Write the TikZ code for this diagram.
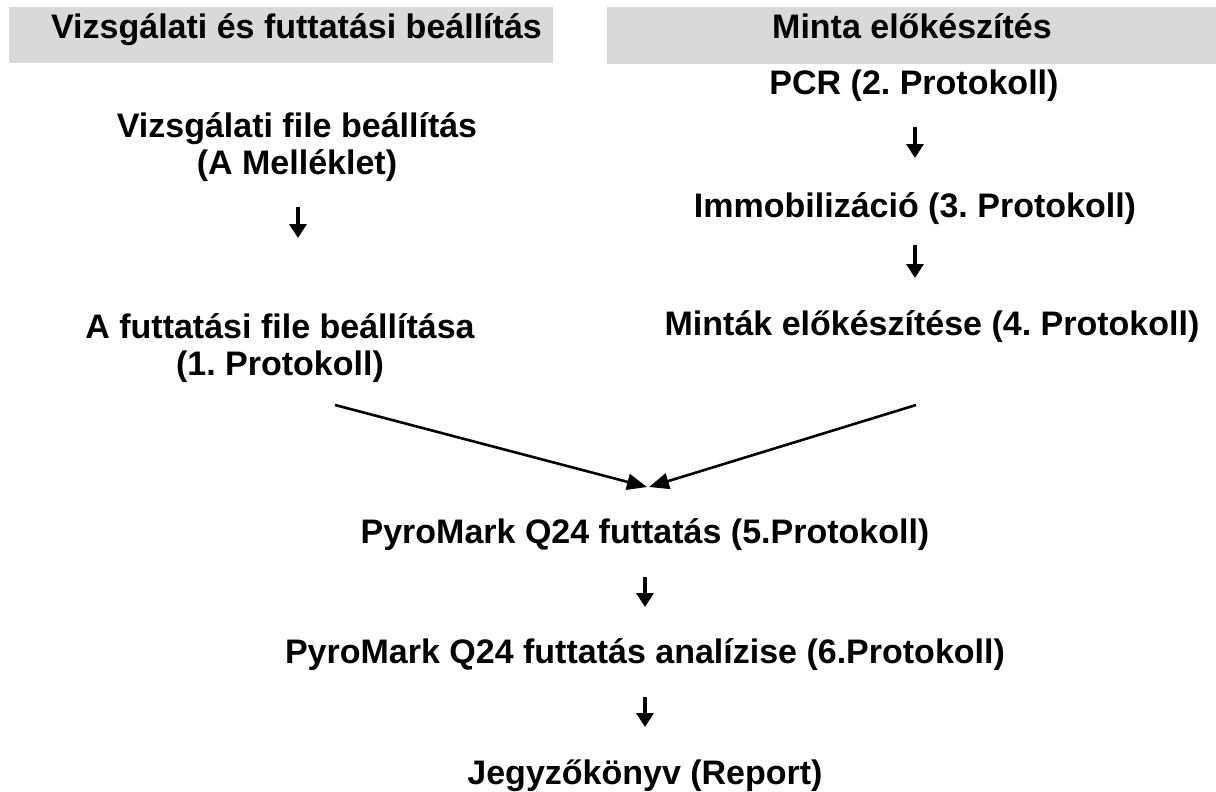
\documentclass[tikz,border=0pt]{standalone}
\usepackage{fontspec}
\setmainfont{Liberation Sans}
\usetikzlibrary{arrows.meta,calc}
\definecolor{hdrgray}{HTML}{D9D9D9}
\tikzset{
  hdrbar/.style={fill=hdrgray, draw=none, inner sep=0pt},
  steptext/.style={font=\fontsize{34}{37}\selectfont\bfseries\frenchspacing, inner sep=0pt,
                   anchor=base, align=center},
  sarr/.style={-{Triangle[length=14pt,width=17pt]}, line width=3.4pt},
  darr/.style={-{Triangle[length=20pt,width=16pt]}, line width=2.6pt}}
\begin{document}
\begin{tikzpicture}[x=1pt,y=-1pt]
  \useasboundingbox (0,0) rectangle (1216,792);
  % header bars
  \node[hdrbar, minimum width=544pt, minimum height=56pt] (hdrleft) at (281,35) {};
  \node[hdrbar, minimum width=609pt, minimum height=57pt] (hdrright) at (911.5,35.5) {};
  \node[steptext] (hdrlefttxt) at (296.5,39) {Vizsgálati és futtatási beállítás};
  \node[steptext] (hdrrighttxt) at (912,39) {Minta előkészítés};
  % left column
  \node[steptext] (vfile) at (297,174) {Vizsgálati file beállítás\\(A Melléklet)};
  \node[steptext] (futfile) at (280,375) {A futtatási file beállítása\\(1. Protokoll)};
  % right column
  \node[steptext] (pcr) at (914,95) {PCR (2. Protokoll)};
  \node[steptext] (immob) at (915,217) {Immobilizáció (3. Protokoll)};
  \node[steptext] (mintak) at (932,335) {Minták előkészítése (4. Protokoll)};
  % common part
  \node[steptext] (pyrorun) at (645,543) {PyroMark Q24 futtatás (5.Protokoll)};
  \node[steptext] (pyroanal) at (645,663) {PyroMark Q24 futtatás analízise (6.Protokoll)};
  \node[steptext] (report) at (645,784) {Jegyzőkönyv (Report)};
  % arrows
  \draw[sarr] ($(vfile.base)+(1,33)$) -- ($(futfile.base)+(18,-137)$);
  \draw[sarr] ($(pcr.base)+(1,32)$) -- ($(immob.base)+(0,-59)$);
  \draw[sarr] ($(immob.base)+(0,28)$) -- ($(mintak.base)+(-17,-57)$);
  \draw[darr] ($(futfile.base)+(55,30)$) -- ($(pyrorun.base)+(2,-56)$);
  \draw[darr] ($(mintak.base)+(-16,70)$) -- ($(pyrorun.base)+(4,-56)$);
  \draw[sarr] ($(pyrorun.base)+(0,34)$) -- ($(pyroanal.base)+(0,-56)$);
  \draw[sarr] ($(pyroanal.base)+(0,34)$) -- ($(report.base)+(0,-57)$);
\end{tikzpicture}
\end{document}
